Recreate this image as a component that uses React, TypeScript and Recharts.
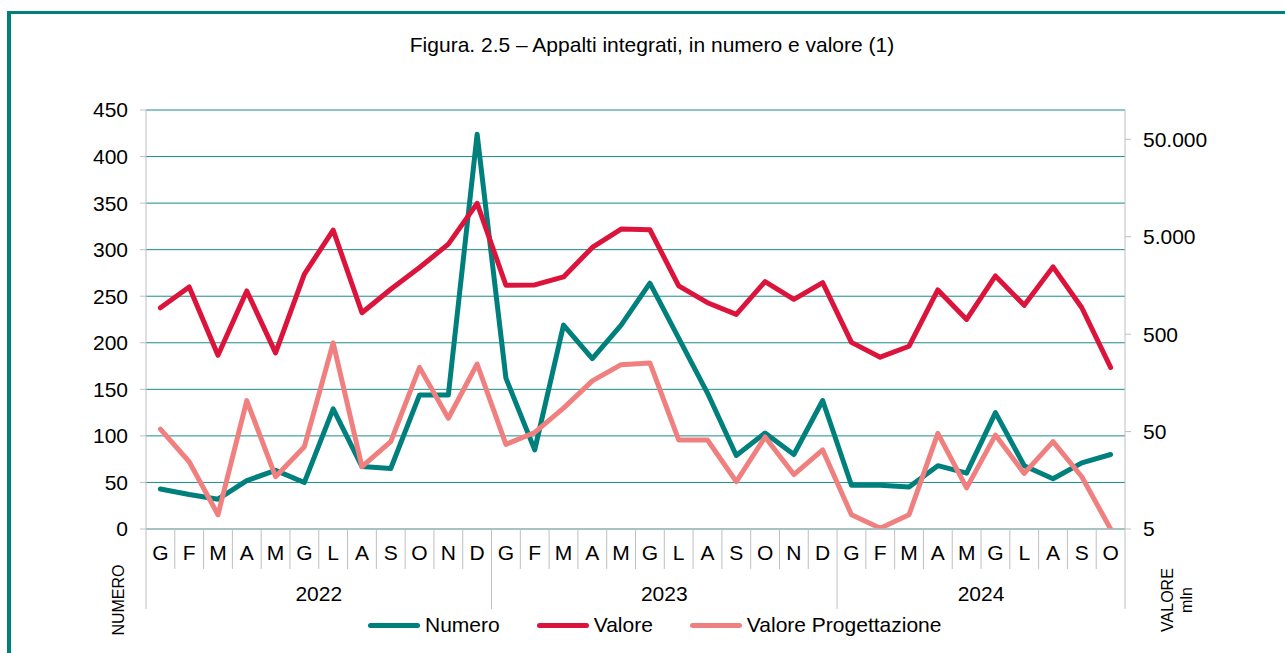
import React from 'react';
import { ComposedChart, Line, XAxis, YAxis, CartesianGrid, Legend, Label } from 'recharts';

// categories
const yearGroups = [
  { year: '2022', months: ['G', 'F', 'M', 'A', 'M', 'G', 'L', 'A', 'S', 'O', 'N', 'D'] },
  { year: '2023', months: ['G', 'F', 'M', 'A', 'M', 'G', 'L', 'A', 'S', 'O', 'N', 'D'] },
  { year: '2024', months: ['G', 'F', 'M', 'A', 'M', 'G', 'L', 'A', 'S', 'O'] },
];

// series values (Numero on the left axis, Valore in mln on the right log axis)
const numero = [43, 37, 32, 52, 63, 50, 129, 67, 65, 144, 144, 424, 162, 85, 219, 183, 219, 264, 205, 146, 79, 103, 80, 138, 47, 47, 45, 68, 60, 125, 68, 54, 71, 80];
const valore = [933, 1527, 304, 1388, 321, 2062, 5860, 829, 1445, 2415, 4200, 11000, 1590, 1600, 1935, 3880, 6000, 5900, 1563, 1052, 798, 1733, 1140, 1690, 412, 290, 376, 1422, 708, 1982, 988, 2453, 933, 228];
const valoreProgettazione = [53, 24.5, 7, 104, 17.2, 35, 407, 21.8, 39.4, 228, 68.5, 247, 37, 49, 87, 166, 243, 253, 41, 41, 15.3, 44, 18.1, 32.4, 7, 5.1, 7, 48, 13.2, 46, 18.6, 39.4, 17.2, 5];

const leftTicks = [0, 50, 100, 150, 200, 250, 300, 350, 400, 450];
const rightTicks = [5, 50, 500, 5000, 50000];

const TEAL = '#00807c';
const RED = '#dc143c';
const PINK = '#f08080';
const GREY = '#bfbfbf';
const FONT = '"Liberation Sans", Arial, sans-serif';

const W = 1285;
const H = 653;
const M = { top: 110, right: 100, bottom: 16, left: 86 };
const Y_W = 60;

const data: any[] = [];
const groupStart: Record<number, { year: string; len: number }> = {};
yearGroups.forEach((g) => {
  groupStart[data.length] = { year: g.year, len: g.months.length };
  g.months.forEach((m) => {
    const i = data.length;
    data.push({
      key: `${g.year}-${i}`,
      month: m,
      numero: numero[i],
      valore: valore[i],
      valoreProgettazione: valoreProgettazione[i],
    });
  });
});
const bwFallback = (W - M.left - M.right - 2 * Y_W) / data.length;

const MonthTick = (props: any) => {
  const { x, y, payload } = props;
  const idx = payload.index;
  const half = payload.offset > 0 ? payload.offset : bwFallback / 2;
  const bw = half * 2;
  const left = x - half;
  const right = x + half;
  const g = groupStart[idx];
  const last = idx === data.length - 1;
  return (
    <g>
      <line x1={left} y1={y} x2={left} y2={y + (g ? 80 : 40)} stroke={GREY} />
      {last && <line x1={right} y1={y} x2={right} y2={y + 80} stroke={GREY} />}
      <text x={x} y={y + 31} textAnchor="middle" fontSize={21} fontFamily={FONT} fill="#000">
        {data[idx].month}
      </text>
      {g && (
        <text x={left + (g.len * bw) / 2} y={y + 72} textAnchor="middle" fontSize={21} fontFamily={FONT} fill="#000">
          {g.year}
        </text>
      )}
    </g>
  );
};

const fmtRight = (v: number) => v.toLocaleString('de-DE');

const LegendContent = () => {
  const items = [
    { name: 'Numero', color: TEAL },
    { name: 'Valore', color: RED },
    { name: 'Valore Progettazione', color: PINK },
  ];
  return (
    <div style={{ display: 'flex', alignItems: 'center', height: 28, fontFamily: FONT, fontSize: 21 }}>
      {items.map((it) => (
        <div key={it.name} style={{ display: 'flex', alignItems: 'center', marginRight: 37 }}>
          <div style={{ width: 52, height: 5, borderRadius: 3, background: it.color, marginRight: 5 }} />
          <span style={{ color: '#000' }}>{it.name}</span>
        </div>
      ))}
    </div>
  );
};

export default function App() {
  return (
    <div style={{ position: 'absolute', left: 0, top: 0, width: W, height: H, background: '#fff' }}>
      <div
        style={{
          position: 'absolute',
          left: 7,
          top: 11,
          right: 0,
          bottom: 0,
          borderLeft: `4px solid ${TEAL}`,
          borderTop: `3px solid ${TEAL}`,
        }}
      />
      <div
        style={{
          position: 'absolute',
          top: 33,
          left: 0,
          width: 1304,
          textAlign: 'center',
          fontFamily: FONT,
          fontSize: 21,
          color: '#000',
        }}
      >
        Figura. 2.5 – Appalti integrati, in numero e valore (1)
      </div>
      <div style={{ position: 'absolute', left: 0, top: 0 }}>
        <ComposedChart width={W} height={H} data={data} margin={M}>
          <CartesianGrid xAxisId="m" yAxisId="left" vertical={false} stroke="#1a8c8c" strokeWidth={1} />
          <XAxis xAxisId="t" orientation="top" dataKey="key" scale="band" height={0} tick={false} tickLine={false} axisLine={{ stroke: GREY }} />
          <XAxis
            xAxisId="m"
            dataKey="key"
            scale="band"
            height={80}
            interval={0}
            tickSize={0}
            tickMargin={0}
            tickLine={false}
            axisLine={{ stroke: GREY }}
            tick={<MonthTick />}
          />
          <YAxis
            yAxisId="left"
            width={Y_W}
            domain={[0, 450]}
            ticks={leftTicks}
            interval={0}
            tickSize={6}
            tickMargin={12}
            axisLine={{ stroke: GREY }}
            tickLine={{ stroke: GREY }}
            tick={{ fontSize: 21, fontFamily: FONT, fill: '#000' }}
          >
            <Label
              content={(p: any) => {
                const vb = p.viewBox;
                const cx = vb.x + 32;
                const cy = vb.y + vb.height + 71;
                return (
                  <text x={cx} y={cy} transform={`rotate(-90 ${cx} ${cy})`} textAnchor="middle" dominantBaseline="central" fontSize={16} fontFamily={FONT} fill="#000">
                    NUMERO
                  </text>
                );
              }}
            />
          </YAxis>
          <YAxis
            yAxisId="right"
            orientation="right"
            width={Y_W}
            scale="log"
            domain={[5, 100000]}
            allowDataOverflow
            ticks={rightTicks}
            interval={0}
            tickSize={6}
            tickMargin={12}
            tickFormatter={fmtRight}
            axisLine={{ stroke: GREY }}
            tickLine={{ stroke: GREY }}
            tick={{ fontSize: 21, fontFamily: FONT, fill: '#000' }}
          >
            <Label
              content={(p: any) => {
                const vb = p.viewBox;
                const x1 = vb.x + 42;
                const x2 = vb.x + 61;
                const cy = vb.y + vb.height + 71;
                return (
                  <g>
                    <text x={x1} y={cy} transform={`rotate(-90 ${x1} ${cy})`} textAnchor="middle" dominantBaseline="central" fontSize={16} fontFamily={FONT} fill="#000">
                      VALORE
                    </text>
                    <text x={x2} y={cy} transform={`rotate(-90 ${x2} ${cy})`} textAnchor="middle" dominantBaseline="central" fontSize={16} fontFamily={FONT} fill="#000">
                      mln
                    </text>
                  </g>
                );
              }}
            />
          </YAxis>
          <Legend verticalAlign="bottom" content={<LegendContent />} wrapperStyle={{ left: 368, top: 611, width: 800 }} />
          <Line xAxisId="m" yAxisId="left" type="linear" dataKey="numero" name="Numero" stroke={TEAL} strokeWidth={5} strokeLinecap="round" strokeLinejoin="round" dot={false} isAnimationActive={false} />
          <Line xAxisId="m" yAxisId="right" type="linear" dataKey="valore" name="Valore" stroke={RED} strokeWidth={5} strokeLinecap="round" strokeLinejoin="round" dot={false} isAnimationActive={false} />
          <Line xAxisId="m" yAxisId="right" type="linear" dataKey="valoreProgettazione" name="Valore Progettazione" stroke={PINK} strokeWidth={5} strokeLinecap="round" strokeLinejoin="round" dot={false} isAnimationActive={false} />
        </ComposedChart>
      </div>
    </div>
  );
}
